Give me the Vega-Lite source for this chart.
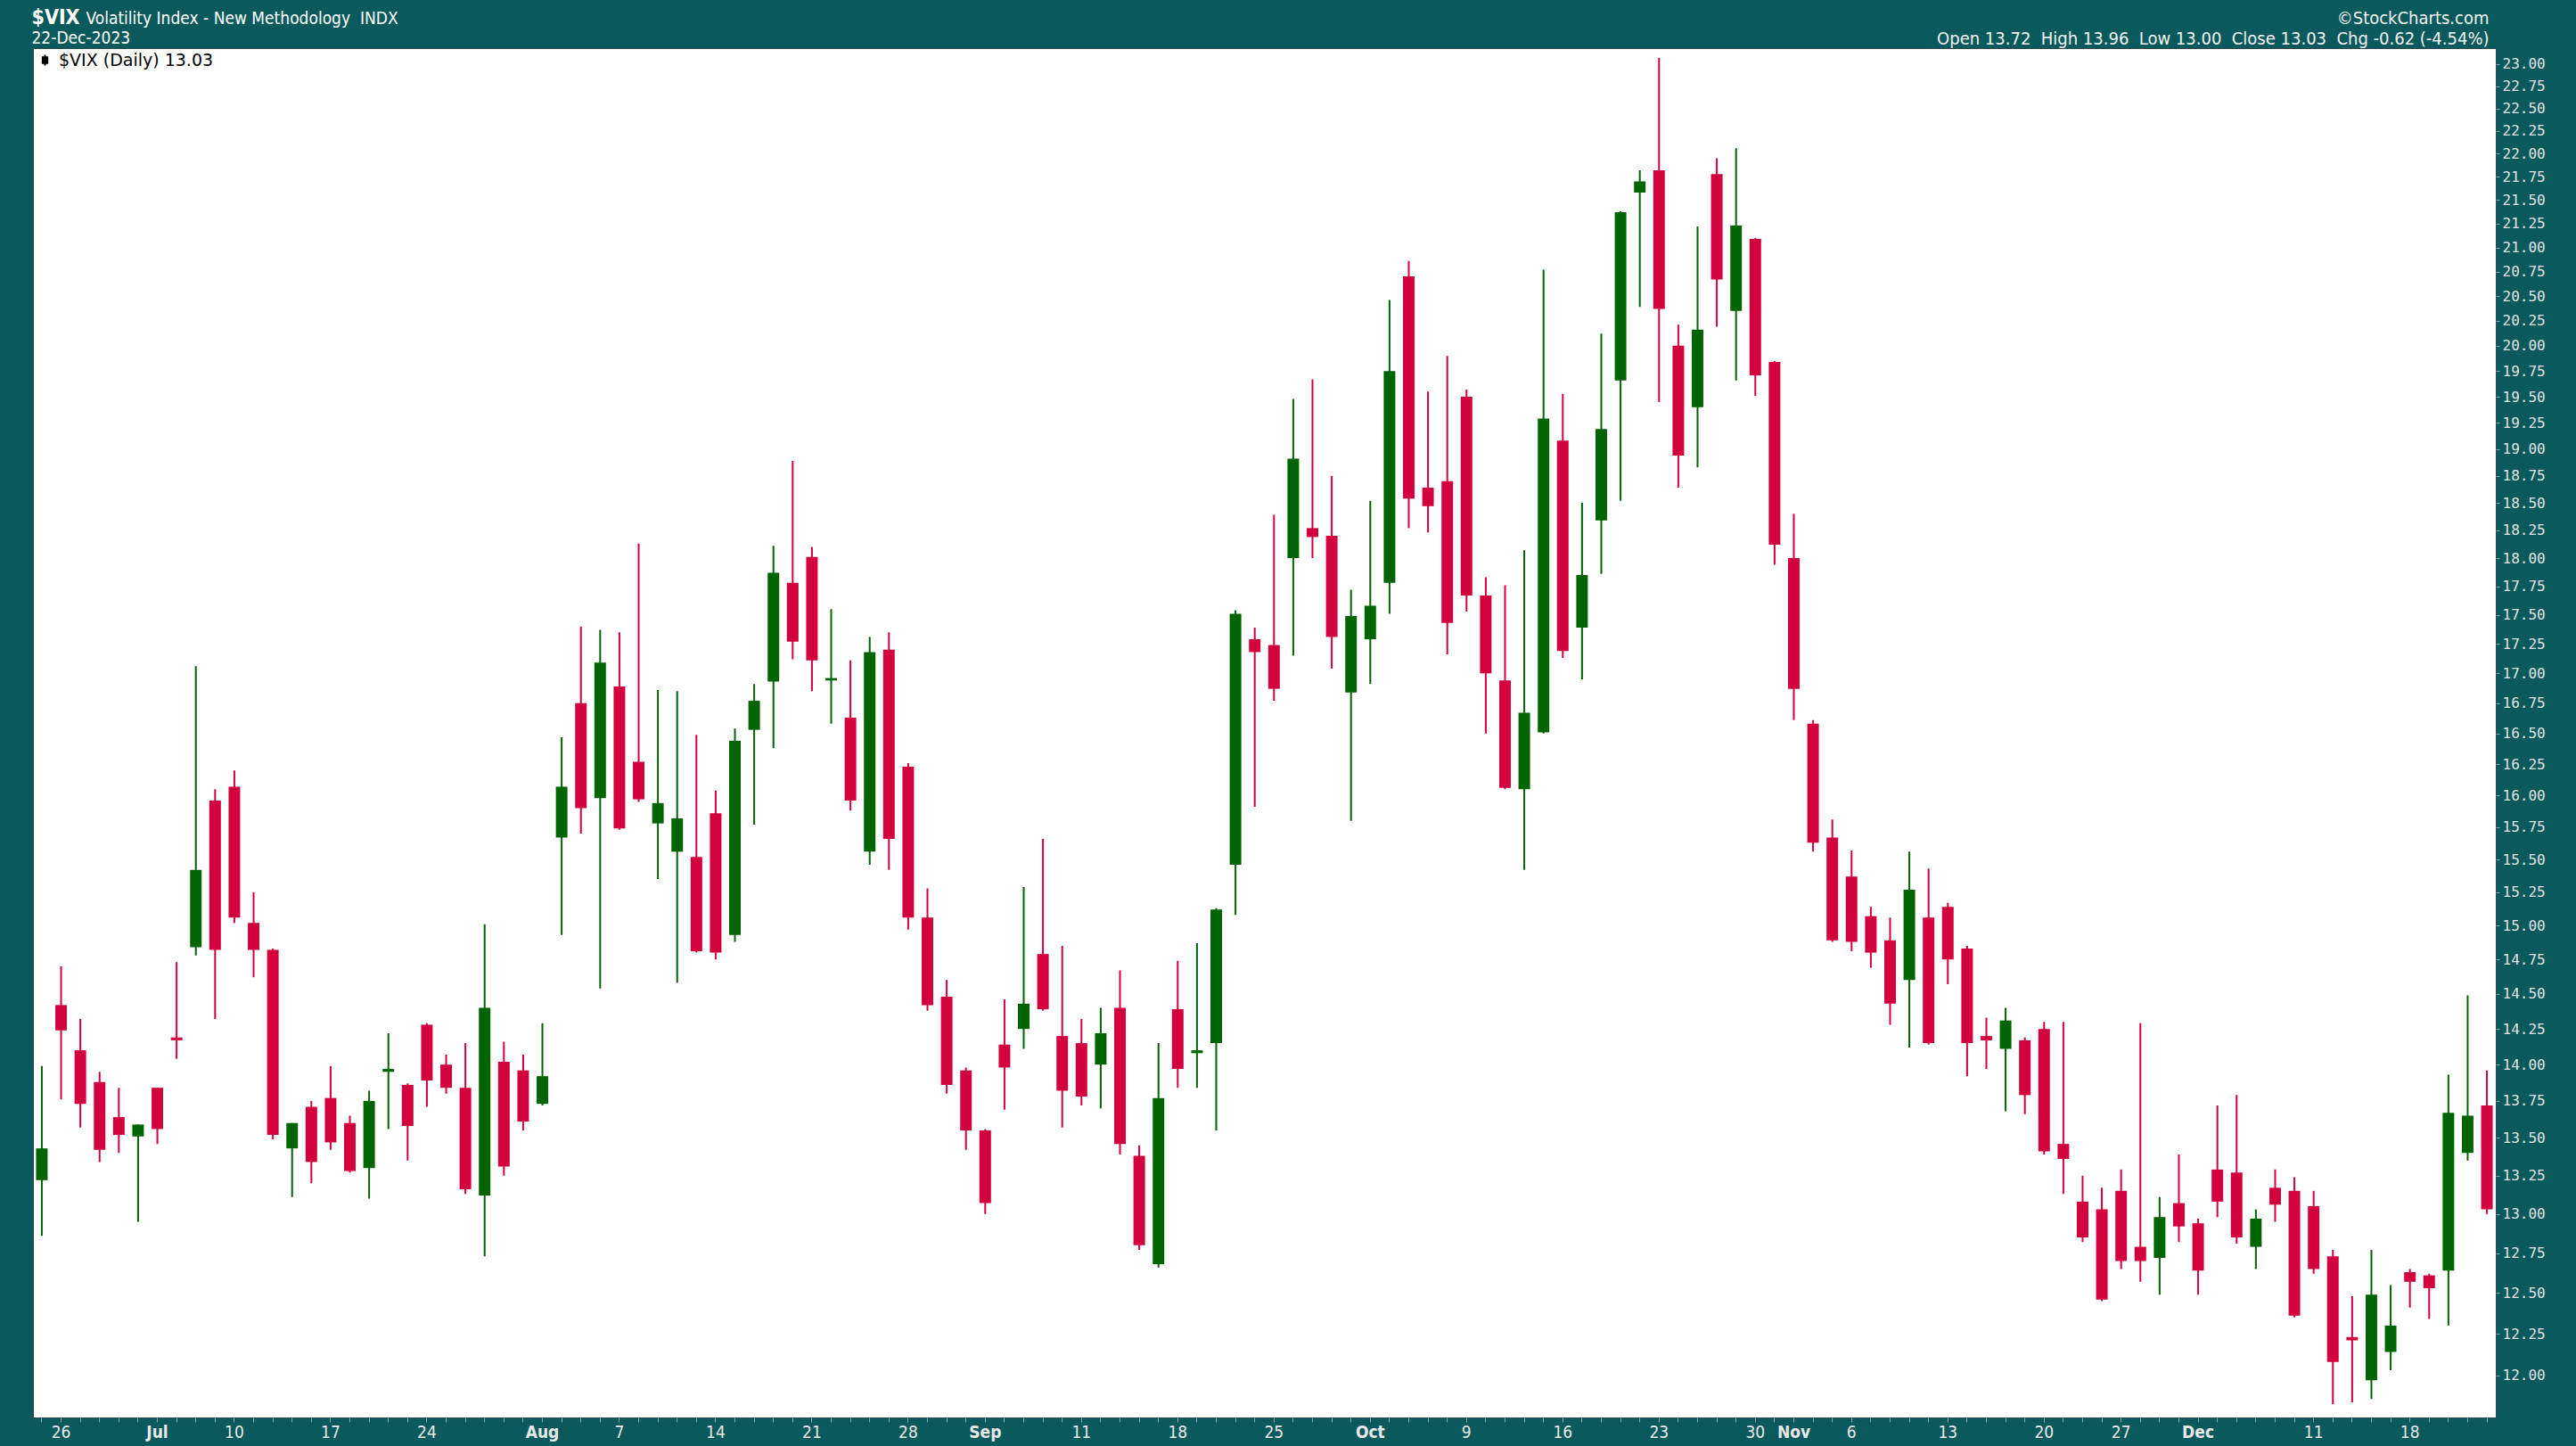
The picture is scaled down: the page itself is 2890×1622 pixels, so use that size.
{
"$schema": "https://vega.github.io/schema/vega-lite/v6.json",
"width": 2763,
"height": 1536,
"autosize": {"type": "none"},
"padding": {"left": 37, "top": 54, "right": 90, "bottom": 32},
"background": "#0a5a5d",
"config": {"view": {"fill": "#ffffff", "stroke": "#2f4856", "strokeWidth": 1}},
"data": {"values": [
{"date":"2023-06-23","open":13.22,"high":13.99,"low":12.86,"close":13.43},
{"date":"2023-06-26","open":14.42,"high":14.70,"low":13.76,"close":14.24},
{"date":"2023-06-27","open":14.10,"high":14.32,"low":13.57,"close":13.73},
{"date":"2023-06-28","open":13.88,"high":13.95,"low":13.34,"close":13.42},
{"date":"2023-06-29","open":13.64,"high":13.84,"low":13.40,"close":13.52},
{"date":"2023-06-30","open":13.51,"high":13.59,"low":12.95,"close":13.59},
{"date":"2023-07-03","open":13.84,"high":13.84,"low":13.46,"close":13.56},
{"date":"2023-07-05","open":14.19,"high":14.73,"low":14.04,"close":14.17},
{"date":"2023-07-06","open":14.84,"high":17.06,"low":14.78,"close":15.42},
{"date":"2023-07-07","open":15.96,"high":16.05,"low":14.32,"close":14.82},
{"date":"2023-07-10","open":16.07,"high":16.20,"low":15.02,"close":15.06},
{"date":"2023-07-11","open":15.02,"high":15.25,"low":14.62,"close":14.82},
{"date":"2023-07-12","open":14.82,"high":14.83,"low":13.49,"close":13.52},
{"date":"2023-07-13","open":13.43,"high":13.60,"low":13.11,"close":13.60},
{"date":"2023-07-14","open":13.71,"high":13.75,"low":13.20,"close":13.34},
{"date":"2023-07-17","open":13.77,"high":13.99,"low":13.42,"close":13.47},
{"date":"2023-07-18","open":13.60,"high":13.65,"low":13.27,"close":13.28},
{"date":"2023-07-19","open":13.30,"high":13.82,"low":13.10,"close":13.75},
{"date":"2023-07-20","open":13.95,"high":14.22,"low":13.56,"close":13.97},
{"date":"2023-07-21","open":13.86,"high":13.87,"low":13.35,"close":13.58},
{"date":"2023-07-24","open":14.28,"high":14.29,"low":13.71,"close":13.89},
{"date":"2023-07-25","open":14.00,"high":14.07,"low":13.80,"close":13.84},
{"date":"2023-07-26","open":13.84,"high":14.15,"low":13.13,"close":13.16},
{"date":"2023-07-27","open":13.12,"high":15.01,"low":12.73,"close":14.40},
{"date":"2023-07-28","open":14.02,"high":14.16,"low":13.25,"close":13.31},
{"date":"2023-07-31","open":13.96,"high":14.07,"low":13.55,"close":13.61},
{"date":"2023-08-01","open":13.73,"high":14.29,"low":13.72,"close":13.92},
{"date":"2023-08-02","open":15.67,"high":16.47,"low":14.93,"close":16.07},
{"date":"2023-08-03","open":16.75,"high":17.40,"low":15.70,"close":15.90},
{"date":"2023-08-04","open":15.98,"high":17.37,"low":14.54,"close":17.09},
{"date":"2023-08-07","open":16.89,"high":17.35,"low":15.73,"close":15.74},
{"date":"2023-08-08","open":16.27,"high":18.13,"low":15.95,"close":15.97},
{"date":"2023-08-09","open":15.78,"high":16.86,"low":15.35,"close":15.94},
{"date":"2023-08-10","open":15.56,"high":16.85,"low":14.58,"close":15.82},
{"date":"2023-08-11","open":15.52,"high":16.49,"low":14.80,"close":14.81},
{"date":"2023-08-14","open":15.86,"high":16.04,"low":14.75,"close":14.80},
{"date":"2023-08-15","open":14.93,"high":16.54,"low":14.88,"close":16.44},
{"date":"2023-08-16","open":16.53,"high":16.91,"low":15.77,"close":16.77},
{"date":"2023-08-17","open":16.93,"high":18.11,"low":16.38,"close":17.87},
{"date":"2023-08-18","open":17.78,"high":18.89,"low":17.12,"close":17.27},
{"date":"2023-08-21","open":18.01,"high":18.10,"low":16.85,"close":17.11},
{"date":"2023-08-22","open":16.94,"high":17.55,"low":16.58,"close":16.96},
{"date":"2023-08-23","open":16.63,"high":17.11,"low":15.88,"close":15.96},
{"date":"2023-08-24","open":15.56,"high":17.31,"low":15.46,"close":17.18},
{"date":"2023-08-25","open":17.20,"high":17.35,"low":15.42,"close":15.66},
{"date":"2023-08-28","open":16.23,"high":16.26,"low":14.97,"close":15.06},
{"date":"2023-08-29","open":15.06,"high":15.28,"low":14.38,"close":14.42},
{"date":"2023-08-30","open":14.48,"high":14.60,"low":13.80,"close":13.86},
{"date":"2023-08-31","open":13.96,"high":13.98,"low":13.42,"close":13.55},
{"date":"2023-09-01","open":13.55,"high":13.56,"low":13.00,"close":13.07},
{"date":"2023-09-05","open":14.14,"high":14.46,"low":13.69,"close":13.98},
{"date":"2023-09-06","open":14.25,"high":15.29,"low":14.11,"close":14.43},
{"date":"2023-09-07","open":14.79,"high":15.66,"low":14.38,"close":14.39},
{"date":"2023-09-08","open":14.20,"high":14.85,"low":13.57,"close":13.82},
{"date":"2023-09-11","open":14.15,"high":14.32,"low":13.72,"close":13.78},
{"date":"2023-09-12","open":14.00,"high":14.40,"low":13.70,"close":14.22},
{"date":"2023-09-13","open":14.40,"high":14.67,"low":13.39,"close":13.46},
{"date":"2023-09-14","open":13.38,"high":13.45,"low":12.77,"close":12.80},
{"date":"2023-09-15","open":12.68,"high":14.15,"low":12.66,"close":13.77},
{"date":"2023-09-18","open":14.39,"high":14.74,"low":13.84,"close":13.97},
{"date":"2023-09-19","open":14.08,"high":14.87,"low":13.84,"close":14.10},
{"date":"2023-09-20","open":14.15,"high":15.13,"low":13.55,"close":15.12},
{"date":"2023-09-21","open":15.46,"high":17.54,"low":15.08,"close":17.51},
{"date":"2023-09-22","open":17.29,"high":17.39,"low":15.91,"close":17.18},
{"date":"2023-09-25","open":17.24,"high":18.39,"low":16.77,"close":16.87},
{"date":"2023-09-26","open":18.00,"high":19.48,"low":17.15,"close":18.91},
{"date":"2023-09-27","open":18.27,"high":19.67,"low":18.00,"close":18.19},
{"date":"2023-09-28","open":18.20,"high":18.75,"low":17.04,"close":17.31},
{"date":"2023-09-29","open":16.84,"high":17.72,"low":15.80,"close":17.49},
{"date":"2023-10-02","open":17.29,"high":18.52,"low":16.91,"close":17.58},
{"date":"2023-10-03","open":17.78,"high":20.46,"low":17.51,"close":19.75},
{"date":"2023-10-04","open":20.70,"high":20.86,"low":18.27,"close":18.54},
{"date":"2023-10-05","open":18.64,"high":19.55,"low":18.23,"close":18.47},
{"date":"2023-10-06","open":18.70,"high":19.90,"low":17.16,"close":17.43},
{"date":"2023-10-09","open":19.50,"high":19.57,"low":17.53,"close":17.67},
{"date":"2023-10-10","open":17.67,"high":17.83,"low":16.50,"close":17.00},
{"date":"2023-10-11","open":16.94,"high":17.76,"low":16.05,"close":16.06},
{"date":"2023-10-12","open":16.05,"high":18.07,"low":15.42,"close":16.67},
{"date":"2023-10-13","open":16.51,"high":20.77,"low":16.50,"close":19.29},
{"date":"2023-10-16","open":19.08,"high":19.53,"low":17.13,"close":17.19},
{"date":"2023-10-17","open":17.39,"high":18.50,"low":16.95,"close":17.85},
{"date":"2023-10-18","open":18.34,"high":20.12,"low":17.86,"close":19.19},
{"date":"2023-10-19","open":19.66,"high":21.38,"low":18.52,"close":21.37},
{"date":"2023-10-20","open":21.58,"high":21.82,"low":20.39,"close":21.70},
{"date":"2023-10-23","open":21.82,"high":23.07,"low":19.45,"close":20.37},
{"date":"2023-10-24","open":20.00,"high":20.21,"low":18.64,"close":18.94},
{"date":"2023-10-25","open":19.40,"high":21.22,"low":18.83,"close":20.16},
{"date":"2023-10-26","open":21.78,"high":21.95,"low":20.19,"close":20.67},
{"date":"2023-10-27","open":20.35,"high":22.06,"low":19.66,"close":21.23},
{"date":"2023-10-30","open":21.09,"high":21.10,"low":19.51,"close":19.71},
{"date":"2023-10-31","open":19.84,"high":19.85,"low":17.94,"close":18.12},
{"date":"2023-11-01","open":18.00,"high":18.40,"low":16.61,"close":16.87},
{"date":"2023-11-02","open":16.58,"high":16.61,"low":15.56,"close":15.63},
{"date":"2023-11-03","open":15.67,"high":15.81,"low":14.88,"close":14.89},
{"date":"2023-11-06","open":15.37,"high":15.57,"low":14.81,"close":14.88},
{"date":"2023-11-07","open":15.07,"high":15.14,"low":14.69,"close":14.80},
{"date":"2023-11-08","open":14.89,"high":15.06,"low":14.28,"close":14.43},
{"date":"2023-11-09","open":14.60,"high":15.56,"low":14.12,"close":15.27},
{"date":"2023-11-10","open":15.06,"high":15.43,"low":14.14,"close":14.15},
{"date":"2023-11-13","open":15.14,"high":15.17,"low":14.57,"close":14.75},
{"date":"2023-11-14","open":14.83,"high":14.85,"low":13.92,"close":14.15},
{"date":"2023-11-15","open":14.20,"high":14.33,"low":13.97,"close":14.17},
{"date":"2023-11-16","open":14.11,"high":14.40,"low":13.68,"close":14.31},
{"date":"2023-11-17","open":14.17,"high":14.19,"low":13.66,"close":13.79},
{"date":"2023-11-20","open":14.25,"high":14.30,"low":13.39,"close":13.41},
{"date":"2023-11-21","open":13.46,"high":14.30,"low":13.13,"close":13.36},
{"date":"2023-11-22","open":13.08,"high":13.25,"low":12.82,"close":12.85},
{"date":"2023-11-24","open":13.03,"high":13.17,"low":12.45,"close":12.46},
{"date":"2023-11-27","open":13.15,"high":13.29,"low":12.65,"close":12.70},
{"date":"2023-11-28","open":12.79,"high":14.29,"low":12.57,"close":12.70},
{"date":"2023-11-29","open":12.72,"high":13.11,"low":12.49,"close":12.98},
{"date":"2023-11-30","open":13.07,"high":13.39,"low":12.82,"close":12.92},
{"date":"2023-12-01","open":12.94,"high":12.97,"low":12.49,"close":12.64},
{"date":"2023-12-04","open":13.29,"high":13.72,"low":12.98,"close":13.08},
{"date":"2023-12-05","open":13.27,"high":13.79,"low":12.81,"close":12.85},
{"date":"2023-12-06","open":12.79,"high":13.03,"low":12.65,"close":12.97},
{"date":"2023-12-07","open":13.17,"high":13.29,"low":12.95,"close":13.06},
{"date":"2023-12-08","open":13.15,"high":13.24,"low":12.35,"close":12.36},
{"date":"2023-12-11","open":13.05,"high":13.15,"low":12.62,"close":12.65},
{"date":"2023-12-12","open":12.73,"high":12.77,"low":11.83,"close":12.08},
{"date":"2023-12-13","open":12.23,"high":12.48,"low":11.84,"close":12.21},
{"date":"2023-12-14","open":11.97,"high":12.77,"low":11.86,"close":12.49},
{"date":"2023-12-15","open":12.14,"high":12.55,"low":12.03,"close":12.30},
{"date":"2023-12-18","open":12.63,"high":12.65,"low":12.41,"close":12.57},
{"date":"2023-12-19","open":12.61,"high":12.62,"low":12.34,"close":12.53},
{"date":"2023-12-20","open":12.64,"high":13.93,"low":12.30,"close":13.67},
{"date":"2023-12-21","open":13.40,"high":14.49,"low":13.35,"close":13.65},
{"date":"2023-12-22","open":13.72,"high":13.96,"low":13.00,"close":13.03}
]},
"layer": [
{
"mark": {"type": "rule", "strokeWidth": 2},
"encoding": {
"x": {"field": "date", "type": "ordinal",
"scale": {"paddingInner": 0.4, "paddingOuter": 0.16},
"axis": {"orient": "bottom", "grid": false, "domain": false,
"ticks": true, "tickSize": 5, "tickColor": "#88a4ae", "tickWidth": 1,
"labelAngle": 0, "labelOverlap": false, "labelBound": false, "labelPadding": 2,
"labelFont": "Liberation Sans Narrow, Arial Narrow, DejaVu Sans Condensed, sans-serif",
"labelFontSize": 19, "labelColor": "#e8e8e8",
"labelFontWeight": {"condition": {"test": "indexof(['2023-07-03','2023-08-01','2023-09-01','2023-10-02','2023-11-01','2023-12-01'], datum.value) >= 0", "value": "bold"}, "value": "normal"},
"labelExpr": "indexof(['2023-07-03','2023-08-01','2023-09-01','2023-10-02','2023-11-01','2023-12-01'], datum.value) >= 0 ? ['Jul','Aug','Sep','Oct','Nov','Dec'][indexof(['2023-07-03','2023-08-01','2023-09-01','2023-10-02','2023-11-01','2023-12-01'], datum.value)] : (indexof(['2023-06-26','2023-07-10','2023-07-17','2023-07-24','2023-08-07','2023-08-14','2023-08-21','2023-08-28','2023-09-11','2023-09-18','2023-09-25','2023-10-09','2023-10-16','2023-10-23','2023-10-30','2023-11-06','2023-11-13','2023-11-20','2023-11-27','2023-12-11','2023-12-18'], datum.value) >= 0 ? '' + toNumber(substring(datum.value, 8, 10)) : '')",
"title": "$VIX", "titleX": -2, "titleY": -1564, "titleAngle": 0, "titleAlign": "left",
"titleBaseline": "alphabetic", "titleAnchor": "start",
"titleFont": "Liberation Sans Narrow, Arial Narrow, DejaVu Sans Condensed, sans-serif",
"titleFontSize": 23, "titleFontWeight": "bold", "titleColor": "#ffffff"}},
"y": {"field": "low", "type": "quantitative",
"scale": {"type": "log", "domain": [11.7515, 23.183], "nice": false, "zero": false},
"axis": {"orient": "right", "grid": false, "domain": false,
"values": [12,12.25,12.5,12.75,13,13.25,13.5,13.75,14,14.25,14.5,14.75,15,15.25,15.5,15.75,16,16.25,16.5,16.75,17,17.25,17.5,17.75,18,18.25,18.5,18.75,19,19.25,19.5,19.75,20,20.25,20.5,20.75,21,21.25,21.5,21.75,22,22.25,22.5,22.75,23],
"format": ".2f", "labelFont": "DejaVu Sans Mono", "labelFontSize": 16, "labelColor": "#e2e2e2",
"labelPadding": 3, "labelOverlap": false, "labelFlush": false,
"tickSize": 4, "tickColor": "#88a4ae",
"title": ["©StockCharts.com", "Open 13.72\u00a0\u00a0High 13.96\u00a0\u00a0Low 13.00\u00a0\u00a0Close 13.03\u00a0\u00a0Chg -0.62 (-4.54%)"],
"titleX": -8, "titleY": -28, "titleAngle": 0, "titleAlign": "right", "titleBaseline": "alphabetic",
"titleFont": "Liberation Sans Narrow, Arial Narrow, DejaVu Sans Condensed, sans-serif",
"titleFontSize": 20, "titleFontWeight": "normal", "titleColor": "#f2f2f2", "titleLineHeight": 23}},
"y2": {"field": "high"},
"color": {"condition": {"test": "datum.close > datum.open", "value": "#006400"}, "value": "#d2003c"},
"strokeDash": {"datum": "$VIX (Daily) 13.03", "type": "nominal",
"scale": {"range": [[1, 0]]},
"legend": {"title": null, "orient": "top-left", "offset": 3, "padding": 1,
"labelFont": "DejaVu Sans", "labelFontSize": 19, "labelColor": "#000000", "labelOffset": 6, "labelLimit": 500,
"symbolType": "M0,-1V1M-0.45,-0.55H0.45V0.55H-0.45Z", "symbolStrokeColor": "#000000", "symbolFillColor": "#000000", "symbolStrokeWidth": 2, "symbolSize": 140}}
}
},
{
"mark": {"type": "bar"},
"encoding": {
"x": {"field": "date", "type": "ordinal",
"scale": {"paddingInner": 0.4, "paddingOuter": 0.16},
"axis": {"orient": "top", "labels": false, "ticks": false, "domain": false, "grid": false,
"title": "Volatility Index - New Methodology\u00a0\u00a0INDX", "titleX": 59, "titleY": -28, "titleAngle": 0,
"titleAlign": "left", "titleBaseline": "alphabetic", "titleAnchor": "start",
"titleFont": "Liberation Sans Narrow, Arial Narrow, DejaVu Sans Condensed, sans-serif",
"titleFontSize": 19, "titleFontWeight": "normal", "titleColor": "#ffffff"}},
"y": {"field": "open", "type": "quantitative",
"scale": {"type": "log", "domain": [11.7515, 23.183], "nice": false, "zero": false},
"axis": {"orient": "left", "labels": false, "ticks": false, "domain": false, "grid": false,
"title": "22-Dec-2023", "titleX": -2, "titleY": -6, "titleAngle": 0,
"titleAlign": "left", "titleBaseline": "alphabetic", "titleAnchor": "start",
"titleFont": "Liberation Sans Narrow, Arial Narrow, DejaVu Sans Condensed, sans-serif",
"titleFontSize": 19, "titleFontWeight": "normal", "titleColor": "#ffffff"}},
"y2": {"field": "close"},
"color": {"condition": {"test": "datum.close > datum.open", "value": "#006400"}, "value": "#d2003c"}
}
}
],
"resolve": {"scale": {"x": "independent", "y": "independent"}, "axis": {"x": "independent", "y": "independent"}}
}
